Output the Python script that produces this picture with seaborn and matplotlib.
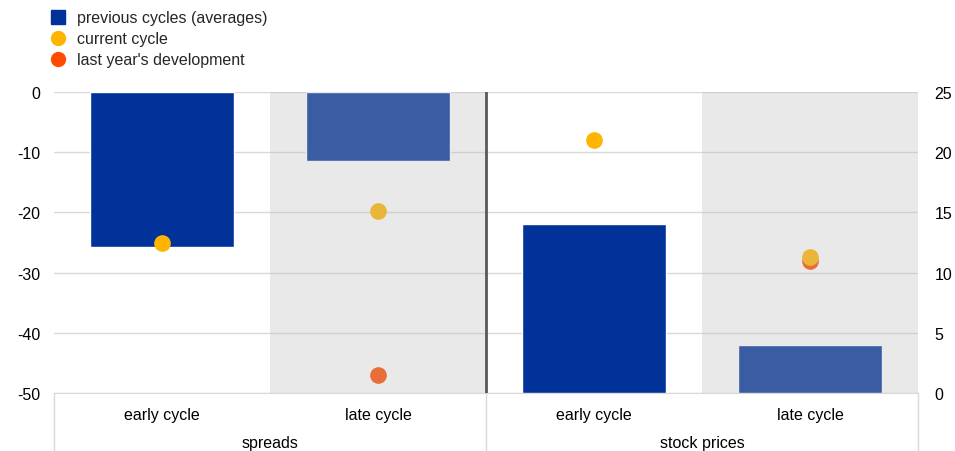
import numpy as np
import pandas as pd
import matplotlib
matplotlib.use("Agg")
import matplotlib.pyplot as plt
from matplotlib.lines import Line2D
import seaborn as sns

# === DONNÉES ===
slots = ["spreads early", "spreads late", "stock early", "stock late"]
cycle_labels = ["early cycle", "late cycle", "early cycle", "late cycle"]
group_labels = ["spreads", "stock prices"]

spread_slots = ["spreads early", "spreads late"]
previous_spreads = [-25.7, -11.4]
current_spreads = [-25.1, -19.8]
last_year_spreads = [np.nan, -47.0]

stock_slots = ["stock early", "stock late"]
previous_stocks = [14.0, 4.0]
current_stocks = [21.0, 11.3]
last_year_stocks = [np.nan, 11.0]

legend_labels = ["previous cycles (averages)", "current cycle", "last year's development"]

BLEU = "#003299"
JAUNE = "#ffb400"
ORANGE = "#ff4b00"
GRIS_TXT = "#000000"
TAILLE = 11.5

# === STYLE ===
sns.set_style("white")
plt.rcParams["font.family"] = ["Liberation Sans", "DejaVu Sans"]
plt.rcParams["font.size"] = TAILLE
plt.rcParams["axes.unicode_minus"] = False

fig = plt.figure(figsize=(9.55, 4.52), dpi=100)
ax = fig.add_axes([54 / 955, 1 - 394 / 452, (918 - 54) / 955, (394 - 93) / 452])
ax2 = ax.twinx()

df_spreads = pd.DataFrame({"slot": spread_slots, "prev": previous_spreads,
                           "cur": current_spreads, "last": last_year_spreads})
df_stocks = pd.DataFrame({"slot": stock_slots, "prev": previous_stocks,
                          "cur": current_stocks, "last": last_year_stocks})

# barres
sns.barplot(data=df_spreads, x="slot", y="prev", order=slots, color=BLEU,
            saturation=1, width=0.667, ax=ax, zorder=2)
sns.barplot(data=df_stocks, x="slot", y="prev", order=slots, color=BLEU,
            saturation=1, width=0.667, ax=ax2, zorder=2)

# points
for axe, d in [(ax, df_spreads), (ax2, df_stocks)]:
    sns.stripplot(data=d, x="slot", y="last", order=slots, color=ORANGE,
                  jitter=False, size=12, linewidth=0, ax=axe, zorder=3)
    sns.stripplot(data=d, x="slot", y="cur", order=slots, color=JAUNE,
                  jitter=False, size=12, linewidth=0, ax=axe, zorder=4)

# zones grises (superposées)
for pos in [1, 3]:
    ax2.axvspan(pos - 0.5, pos + 0.5, color="#bbbbbb", alpha=0.31, lw=0, zorder=10)

ax.set_xlim(-0.5, 3.5)
ax.set_ylim(-50, 0)
ax2.set_ylim(0, 25)
ax.set_yticks(range(-50, 1, 10))
ax2.set_yticks(range(0, 26, 5))
ax.yaxis.grid(True, color="#d9d9d9", lw=1)
ax.set_axisbelow(True)

for a in (ax, ax2):
    a.set_xlabel("")
    a.set_ylabel("")
    for s in a.spines.values():
        s.set_visible(False)
    a.tick_params(length=0, labelsize=TAILLE, colors=GRIS_TXT)
ax.tick_params(axis="y", pad=10)
ax2.tick_params(axis="y", pad=12)
ax.spines["bottom"].set_visible(True)
ax.spines["bottom"].set_color("#d9d9d9")

ax.set_xticks(range(len(slots)))
ax.set_xticklabels(cycle_labels)
ax.tick_params(axis="x", pad=10)

# séparateur central
ax2.axvline(1.5, color="#595959", lw=2, zorder=11)

# lignes dans la zone des étiquettes
tr = ax.get_xaxis_transform()
for xv in [-0.5, 1.5, 3.5]:
    ax.add_line(Line2D([xv, xv], [0, -0.2], transform=tr, color="#d9d9d9",
                       lw=1, clip_on=False))
for i, g in enumerate(group_labels):
    ax.text(0.5 + 2 * i, -0.164, g, transform=tr, ha="center", va="center",
            fontsize=TAILLE, color=GRIS_TXT)

# légende
handles = [
    Line2D([], [], marker="s", ls="", color=BLEU, markersize=10),
    Line2D([], [], marker="o", ls="", color=JAUNE, markersize=10),
    Line2D([], [], marker="o", ls="", color=ORANGE, markersize=10),
]
fig.legend(handles, legend_labels, loc="upper left", bbox_to_anchor=(0.038, 1.005),
           frameon=False, fontsize=TAILLE, handlelength=1, handletextpad=0.7,
           labelspacing=0.38, borderpad=0.35)

fig.savefig("out.png", dpi=100)
